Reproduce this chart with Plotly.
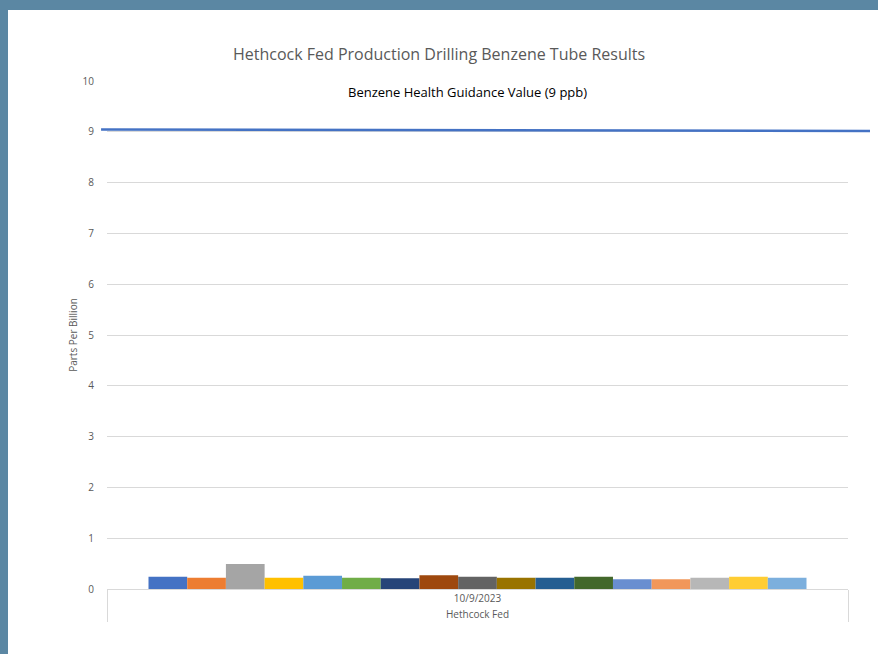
import plotly.graph_objects as go

site = "Hethcock Fed"
date = "10/9/2023"
series_names = [f"Tube {i}" for i in range(1, 18)]
values = [0.24, 0.22, 0.49, 0.22, 0.26, 0.22, 0.21, 0.27, 0.24,
          0.22, 0.22, 0.24, 0.19, 0.19, 0.22, 0.24, 0.22]
colors = ["#4472C4", "#ED7D31", "#A5A5A5", "#FFC000", "#5B9BD5", "#70AD47",
          "#264478", "#9E480E", "#636363", "#997300", "#255E91", "#43682B",
          "#698ED0", "#F1975A", "#B7B7B7", "#FFCD33", "#7CAFDD"]
guidance_value = 9
guidance_label = "Benzene Health Guidance Value (9 ppb)"
y_ticks = list(range(0, 11))

fig = go.Figure()
for name, v, c in zip(series_names, values, colors):
    fig.add_trace(go.Bar(x=[[site], [date]], y=[v], name=name,
                         marker=dict(color=c, line=dict(width=0))))

font = "Open Sans"
fig.update_layout(
    width=878, height=654,
    margin=dict(l=107, r=30, t=81, b=65),
    paper_bgcolor="white", plot_bgcolor="white",
    barmode="group", bargap=0.112, bargroupgap=0,
    showlegend=False,
    title=dict(text="Hethcock Fed Production Drilling Benzene Tube Results",
               x=0.5, xanchor="center", y=1 - 54 / 654, yanchor="middle",
               font=dict(family=font, size=16, color="#595959")),
    font=dict(family=font, color="#595959"),
)
fig.update_yaxes(range=[0, 10], tickvals=y_ticks, showgrid=True,
                 gridcolor="#D9D9D9", gridwidth=1, zeroline=False,
                 showline=False, ticks="outside", ticklen=10,
                 tickcolor="rgba(0,0,0,0)", tickfont=dict(size=10, color="#595959"),
                 title=dict(text="Parts Per Billion", font=dict(size=10, color="#595959"),
                            standoff=3))
fig.update_xaxes(showline=True, linecolor="#D9D9D9", linewidth=1,
                 showdividers=True, dividercolor="#D9D9D9", dividerwidth=1,
                 ticks="outside", ticklen=7, tickcolor="rgba(0,0,0,0)",
                 tickfont=dict(size=10, color="#595959"), showgrid=False)

# guidance line
fig.add_shape(type="line", xref="paper", yref="y",
              x0=-0.008, x1=1.0297, y0=guidance_value + 0.045, y1=guidance_value + 0.016,
              line=dict(color="#4472C4", width=2.5))
fig.add_annotation(text=guidance_label, xref="paper", yref="y",
                   x=0.486, y=guidance_value + 0.78, showarrow=False,
                   font=dict(family=font, size=13, color="black"))

# frame bands (top and left)
band = "#5B87A3"
fig.add_shape(type="rect", xref="paper", yref="paper",
              x0=-0.2, x1=1.2, y0=1 + 71 / 508, y1=1.3,
              fillcolor=band, line=dict(width=0), layer="below")
fig.add_shape(type="rect", xref="paper", yref="paper",
              x0=-0.2, x1=-99 / 741, y0=-0.3, y1=1.3,
              fillcolor=band, line=dict(width=0), layer="below")

fig.write_html("out.html", config={"displayModeBar": False},
               post_script="document.body.style.margin='0px';"
                           "document.body.style.overflow='hidden';")
